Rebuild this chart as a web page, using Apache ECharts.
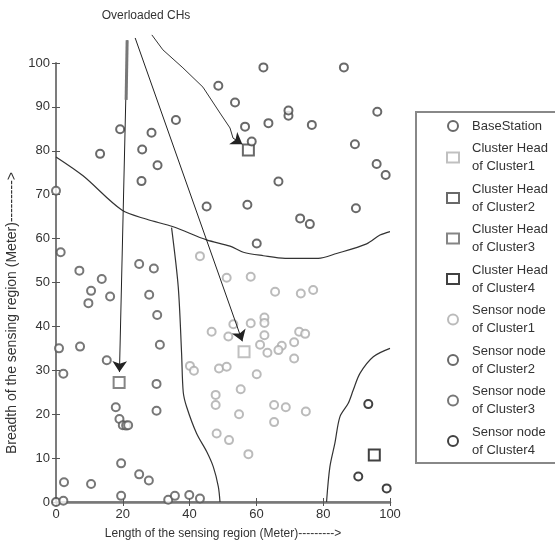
<!DOCTYPE html>
<html>
<head>
<meta charset="utf-8">
<script src="https://cdn.jsdelivr.net/npm/echarts@6/dist/echarts.min.js"></script>
<style>
	html, body { margin: 0; padding: 0; background: #fff; }
	#main { width: 555px; height: 549px; }
</style>
</head>
<body>
<div id="main"></div>
<script>
// 坐标刻度
var xTicks = [0, 20, 40, 60, 80, 100];
var yTicks = [0, 10, 20, 30, 40, 50, 60, 70, 80, 90, 100];

// 基站和簇头
var baseStation = [[0, 0]];
var head1 = [[56.3, 34.2]];
var head2 = [[57.6, 80.2]];
var head3 = [[18.9, 27.2]];
var head4 = [[95.3, 10.7]];

// 各簇的传感节点
var nodes1 = [
	[43.1, 56.0], [51.1, 51.1], [58.3, 51.3], [65.6, 47.9], [73.3, 47.5], [77.0, 48.3],
	[46.6, 38.8], [51.6, 37.7], [53.1, 40.5], [58.3, 40.7], [62.4, 42.0], [62.4, 40.8],
	[62.4, 38.0], [61.1, 35.8], [67.6, 35.6], [66.6, 34.6], [63.3, 34.0], [71.3, 36.4],
	[72.8, 38.8], [74.6, 38.3], [71.3, 32.7], [40.1, 31.0], [41.3, 29.9], [48.8, 30.4],
	[51.1, 30.8], [60.1, 29.1], [55.3, 25.7], [47.8, 24.4], [47.8, 22.1], [48.1, 15.6],
	[51.8, 14.1], [65.3, 22.1], [68.8, 21.6], [54.8, 20.0], [65.3, 18.2], [74.8, 20.6],
	[57.6, 10.9]
];
var nodes2 = [
	[48.6, 94.8], [35.9, 87.0], [19.2, 84.9], [28.6, 84.1], [13.2, 79.3], [25.8, 80.3],
	[30.4, 76.7], [25.6, 73.1], [45.1, 67.3], [62.1, 99.0], [86.2, 99.0], [53.6, 91.0],
	[69.6, 88.0], [69.6, 89.2], [96.2, 88.9], [56.6, 85.5], [63.6, 86.3], [76.6, 85.9],
	[58.6, 82.1], [89.5, 81.5], [96.0, 77.0], [98.7, 74.5], [66.6, 73.0], [57.3, 67.7],
	[89.8, 66.9], [73.1, 64.6], [76.0, 63.3], [60.1, 58.9]
];
var nodes3 = [
	[0, 70.9], [1.4, 56.9], [7.0, 52.7], [13.7, 50.8], [10.5, 48.1], [9.7, 45.3],
	[16.2, 46.8], [24.9, 54.2], [29.3, 53.2], [27.9, 47.2], [30.3, 42.6], [31.1, 35.8],
	[0.9, 35.0], [7.2, 35.4], [15.2, 32.3], [2.2, 29.2], [30.1, 26.9], [17.9, 21.6],
	[19.0, 18.9], [20.0, 17.5], [21.0, 17.4], [21.6, 17.5], [30.1, 20.8], [19.5, 8.8],
	[24.9, 6.3], [27.8, 4.9], [2.4, 4.5], [10.5, 4.1], [19.5, 1.4], [2.2, 0.3],
	[33.6, 0.5], [35.6, 1.4], [39.9, 1.6], [43.1, 0.8]
];
var nodes4 = [[93.5, 22.3], [90.5, 5.8], [99.0, 3.1]];

// 簇的边界线
var borderA = [[0, 78.6], [8.1, 74.3], [19.7, 66.5], [27.2, 64.4], [35.1, 62.7], [45.1, 59.7],
	[52.1, 58.3], [56.1, 56.9], [62.1, 56.1], [68.6, 55.5], [78.5, 55.5], [84.0, 56.6],
	[93.0, 58.8], [97.0, 60.8], [100, 61.6]];
var borderB = [[34.6, 62.5], [36.6, 49.0], [37.6, 33.9], [38.1, 25.0], [39.1, 21.7], [42.1, 15.6],
	[45.1, 11.5], [47.1, 8.0], [48.6, 3.5], [49.1, 0]];
var borderC = [[81.0, 0], [82.0, 8.0], [83.5, 13.4], [85.0, 19.4], [87.5, 22.5], [89.0, 25.5],
	[91.0, 29.3], [95.0, 33.1], [100, 35.0]];

// 指向过载簇头的箭头
var arrowLeft = [[21.3, 105.2], [19.0, 29.6]];
var arrowLeftThick = [[21.3, 105.2], [21.0, 91.6]];
var arrowMid = [[23.7, 105.7], [55.8, 36.6]];
var arrowTop = [[28.7, 106.4], [32.0, 103.0], [38.0, 98.9], [44.0, 94.5], [49.1, 88.6],
	[52.1, 85.2], [53.0, 82.9]];
var arrowTopHead = [[53.0, 82.9], [55.8, 81.5]];

var font = "'Liberation Sans Narrow', 'Liberation Sans', Arial, sans-serif";

function pointSeries(name, data, symbol, color, size) {
	return {
		name: name,
		type: 'scatter',
		xAxisIndex: 0,
		yAxisIndex: 0,
		symbol: symbol,
		symbolSize: size,
		data: data,
		itemStyle: { color: color, borderWidth: 1.6 },
		z: 5
	};
}

function borderSeries(data) {
	return {
		type: 'line',
		data: data,
		symbol: 'none',
		smooth: 0.3,
		lineStyle: { color: '#333', width: 1.2 },
		z: 3
	};
}

function buildChart(divplace) {
	var myChart = echarts.init(document.getElementById(divplace));
	var axisLine = { lineStyle: { color: '#777', width: 1.6 } };
	var option = {
		animation: false,
		backgroundColor: '#fff',
		grid: { left: 56, right: 165, top: 63, bottom: 47 },
		xAxis: [
			{
				type: 'value', min: 0, max: 100, interval: 20,
				axisLine: axisLine,
				axisTick: { inside: true, length: 4, lineStyle: { color: '#555' } },
				axisLabel: { color: '#333', fontFamily: font, fontSize: 13, margin: 6,
					formatter: function(v) { return xTicks.indexOf(v) >= 0 ? v : ''; } },
				splitLine: { show: false },
				name: 'Length of the sensing region (Meter)--------->',
				nameLocation: 'middle',
				nameGap: 26,
				nameTextStyle: { color: '#333', fontFamily: font, fontSize: 12 }
			},
			{
				type: 'value', min: 0, max: 100, interval: 20, position: 'top',
				axisLine: { lineStyle: { color: '#777', width: 2.5 } },
				axisTick: { inside: true, length: 4, lineStyle: { color: '#555' } },
				axisLabel: { show: false },
				splitLine: { show: false }
			}
		],
		yAxis: [
			{
				type: 'value', min: 0, max: 100, interval: 10,
				axisLine: axisLine,
				axisTick: { inside: true, length: 4, lineStyle: { color: '#555' } },
				axisLabel: { color: '#333', fontFamily: font, fontSize: 13, margin: 6,
					formatter: function(v) { return yTicks.indexOf(v) >= 0 ? v : ''; } },
				splitLine: { show: false }
			},
			{
				type: 'value', min: 0, max: 100, interval: 10, position: 'right',
				axisLine: axisLine,
				axisTick: { inside: true, length: 4, lineStyle: { color: '#555' } },
				axisLabel: { show: false },
				splitLine: { show: false }
			}
		],
		legend: {
			orient: 'vertical',
			left: 441,
			top: 112,
			itemWidth: 12,
			itemHeight: 10,
			itemGap: 4.5,
			textStyle: { color: '#333', fontFamily: font, fontSize: 13, lineHeight: 18, padding: [0, 0, 0, 8] },
			data: ['BaseStation', 'Cluster Head\nof Cluster1', 'Cluster Head\nof Cluster2',
				'Cluster Head\nof Cluster3', 'Cluster Head\nof Cluster4', 'Sensor node\nof Cluster1',
				'Sensor node\nof Cluster2', 'Sensor node\nof Cluster3', 'Sensor node\nof Cluster4']
		},
		graphic: [
			{
				type: 'rect',
				shape: { x: 416, y: 112, width: 160, height: 351 },
				style: { fill: 'none', stroke: '#888', lineWidth: 2 },
				z: 1
			},
			{
				type: 'text',
				x: 12, y: 313,
				rotation: Math.PI / 2,
				style: { text: 'Breadth of the sensing region (Meter)--------->', fill: '#333',
					font: '14px ' + font, align: 'center', verticalAlign: 'middle' }
			},
			{
				type: 'text',
				x: 146, y: 16,
				style: { text: 'Overloaded CHs', fill: '#333', font: '12px ' + font,
					align: 'center', verticalAlign: 'middle' }
			}
		],
		series: [
			borderSeries(borderA),
			borderSeries(borderB),
			borderSeries(borderC),
			{
				// 直线箭头
				type: 'lines',
				coordinateSystem: 'cartesian2d',
				clip: false,
				symbol: ['none', 'arrow'],
				symbolSize: 11,
				lineStyle: { color: '#222', width: 1, opacity: 1 },
				data: [
					{ coords: arrowLeft },
					{ coords: arrowMid },
					{ coords: arrowTopHead }
				],
				z: 6
			},
			{
				// 弯曲的箭头
				type: 'lines',
				coordinateSystem: 'cartesian2d',
				polyline: true,
				clip: false,
				lineStyle: { color: '#333', width: 1, opacity: 1 },
				data: [{ coords: arrowTop }],
				z: 6
			},
			{
				type: 'lines',
				coordinateSystem: 'cartesian2d',
				clip: false,
				symbol: 'none',
				lineStyle: { color: '#777', width: 3, opacity: 1 },
				data: [{ coords: arrowLeftThick }],
				z: 6
			},
			pointSeries('BaseStation', baseStation, 'emptyCircle', '#444', 8),
			pointSeries('Cluster Head\nof Cluster1', head1, 'emptyRect', '#b0b0b0', 11),
			pointSeries('Cluster Head\nof Cluster2', head2, 'emptyRect', '#444', 11),
			pointSeries('Cluster Head\nof Cluster3', head3, 'emptyRect', '#666', 11),
			pointSeries('Cluster Head\nof Cluster4', head4, 'emptyRect', '#111', 11),
			pointSeries('Sensor node\nof Cluster1', nodes1, 'emptyCircle', '#aaa', 8),
			pointSeries('Sensor node\nof Cluster2', nodes2, 'emptyCircle', '#444', 8),
			pointSeries('Sensor node\nof Cluster3', nodes3, 'emptyCircle', '#555', 8),
			pointSeries('Sensor node\nof Cluster4', nodes4, 'emptyCircle', '#111', 8)
		]
	};
	myChart.setOption(option);
}

buildChart('main');
</script>
</body>
</html>
